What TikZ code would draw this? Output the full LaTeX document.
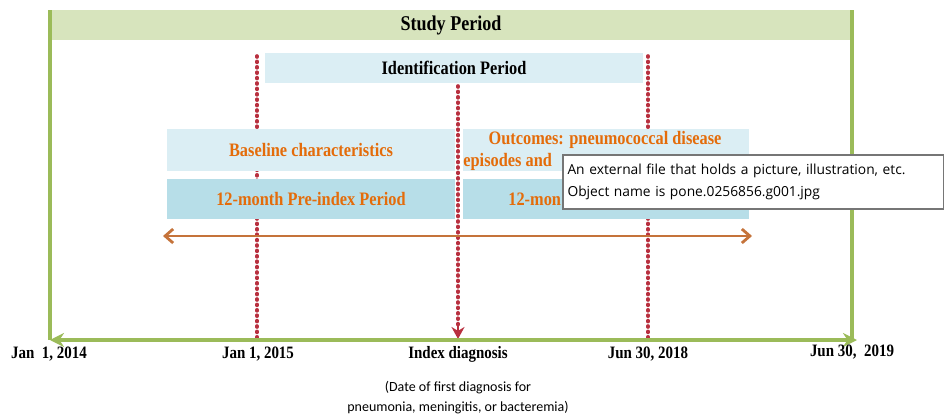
\documentclass[tikz,border=0pt]{standalone}
\usepackage{fontspec}
\setmainfont{Liberation Serif}
\newfontfamily\condserif[FakeStretch=0.86]{Liberation Serif}
\newfontfamily\notefont{Carlito}
\newfontfamily\tipfont{Open Sans}
\usetikzlibrary{arrows.meta}
\definecolor{studygreen}{HTML}{9BBB59}
\definecolor{headgreen}{HTML}{D7E4BD}
\definecolor{paleblue}{HTML}{DBEEF4}
\definecolor{midblue}{HTML}{B7DEE8}
\definecolor{dotred}{HTML}{B8303F}
\definecolor{textorange}{HTML}{E46C0A}
\definecolor{arrowbrown}{HTML}{C5733A}
\definecolor{tipgray}{HTML}{767676}
\tikzset{
  band/.style={inner sep=0pt, font=\condserif\bfseries\fontsize{9.5}{11}\selectfont},
  period/.style={band, text=textorange, align=center},
  datelabel/.style={inner sep=0pt, font=\condserif\bfseries\fontsize{8.7}{10}\selectfont},
  marker/.style={dotred, line width=1.8pt, line cap=round, dash pattern=on 0.5pt off 2.2pt},
}
\begin{document}
\begin{tikzpicture}[x=0.5pt,y=-0.5pt]
  \useasboundingbox (0,0) rectangle (944,418);
  % time markers (behind the bands)
  \coordinate (m1) at (257,56);
  \coordinate (m2) at (458,86);
  \coordinate (m3) at (648,56);
  \coordinate (n1) at (257,340);
  \coordinate (n2) at (458,326);
  \coordinate (n3) at (648,340);
  \coordinate (tip2) at (458,339);
  \begin{scope}[marker]
    \draw (m1) -- (n1);
    \draw (m3) -- (n3);
    \draw (m2) -- (n2);
  \end{scope}
  \draw[dotred, line width=1.2pt, -{Stealth[length=6pt,width=6.5pt]}] (n2) -- (tip2);
  % frame and bands
  \node[band, fill=headgreen, minimum width=401pt, minimum height=15pt, font=\condserif\bfseries\fontsize{10.5}{12}\selectfont] (study) at (451,25) {Study Period};
  \node[band, fill=paleblue, minimum width=189pt, minimum height=15pt] (ident) at (454,68) {Identification Period};
  \node[period, fill=paleblue, minimum width=144pt, minimum height=21pt] (base) at (311,150) {Baseline characteristics};
  \node[fill=paleblue, minimum width=143pt, minimum height=21pt, inner sep=0pt] (outc) at (605.5,150) {};
  \node[period] (outc1) at (605,140) {Outcomes: pneumococcal disease};
  \node[period, anchor=west] (outc2) at (463,162) {episodes and};
  \node[period, fill=midblue, minimum width=144pt, minimum height=20pt] (pre) at (311,199) {12-month Pre-index Period};
  \node[fill=midblue, minimum width=143pt, minimum height=20pt, inner sep=0pt] (post) at (605.5,199) {};
  \node[period, anchor=west] (post1) at (508,199) {12-mon};
  \coordinate (tl) at (50,10);
  \coordinate (tr) at (852,10);
  \coordinate (bl) at (50,340);
  \coordinate (br) at (852,340);
  \coordinate (al) at (163,236);
  \coordinate (ar) at (752,236);
  \begin{scope}[studygreen, line width=1.6pt]
    \draw (tl) -- (bl);
    \draw (tr) -- (br);
    \draw[{Stealth[length=7pt,width=7pt]}-{Stealth[length=7pt,width=7pt]}] (bl) -- (857,340);
  \end{scope}
  \draw[arrowbrown, line width=1.4pt, {Straight Barb[length=4pt,width=7pt]}-{Straight Barb[length=4pt,width=7pt]}] (al) -- (ar);
  % time points
  \node[datelabel] (d0) at (49,354) {Jan\ \ 1, 2014};
  \node[datelabel] (d1) at (258,354) {Jan 1, 2015};
  \node[datelabel] (d2) at (458,354) {Index diagnosis};
  \node[datelabel] (d3) at (648,354) {Jun 30, 2018};
  \node[datelabel] (d4) at (852,352) {Jun 30,\ \ 2019};
  \node[inner sep=0pt, align=center, font=\notefont\fontsize{7}{10}\selectfont] (note) at (458,398)
    {(Date of first diagnosis for\\pneumonia, meningitis, or bacteremia)};
  % tooltip
  \node[draw=tipgray, fill=white, line width=0.6pt, inner sep=0pt, minimum width=190.5pt, minimum height=27pt,
        text width=186pt, align=left, font=\tipfont\fontsize{6.9}{11.3}\selectfont] (tip) at (753.5,182)
    {An external file that holds a picture, illustration, etc.\\Object name is pone.0256856.g001.jpg};
\end{tikzpicture}
\end{document}
